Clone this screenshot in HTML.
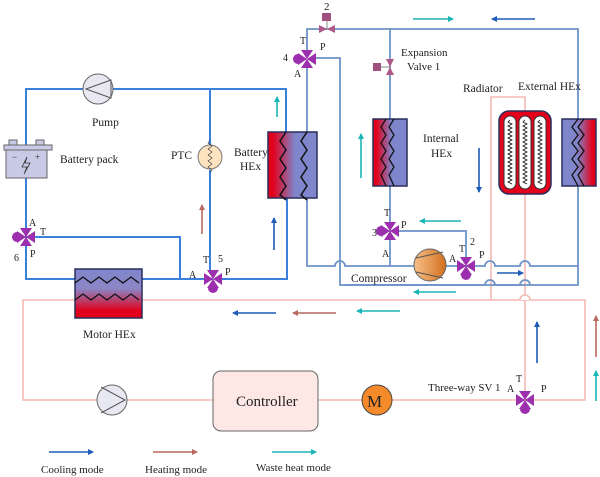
<!DOCTYPE html>
<html><head><style>
html,body{margin:0;padding:0;background:#fff;}
svg{display:block;}
text{font-family:"Liberation Serif",serif;fill:#222;}
</style></head><body>
<svg width="600" height="477" viewBox="0 0 600 477" xmlns="http://www.w3.org/2000/svg">
<defs>
<linearGradient id="rb" x1="0" x2="1"><stop offset="0.1" stop-color="#e3001b"/><stop offset="0.55" stop-color="#7f86cc"/><stop offset="1" stop-color="#7f86cc"/></linearGradient>
<linearGradient id="br" x1="0" x2="1"><stop offset="0" stop-color="#7f86cc"/><stop offset="0.45" stop-color="#7f86cc"/><stop offset="0.9" stop-color="#e3001b"/></linearGradient>
<linearGradient id="bv" x1="0" y1="0" x2="0" y2="1"><stop offset="0" stop-color="#7f86cc"/><stop offset="0.4" stop-color="#8b86c8"/><stop offset="0.85" stop-color="#e3001b"/></linearGradient>
<linearGradient id="cmp" x1="0" x2="1"><stop offset="0" stop-color="#f7c08a"/><stop offset="1" stop-color="#d2701c"/></linearGradient>
<g id="v"><path d="M-6,-9 L6,-9 L0,0Z M-6,9 L6,9 L0,0Z M-9,-6 L-9,6 L0,0Z M9,-6 L9,6 L0,0Z" fill="#9b2fae"/></g>
<marker id="m" markerWidth="6" markerHeight="6" refX="5" refY="3" orient="auto" markerUnits="userSpaceOnUse"><path d="M0,0 L6,3 L0,6Z" fill="context-stroke"/></marker>
</defs>

<!-- pink loop -->
<g stroke="#f6b8b4" stroke-width="1.6" fill="none">
<path d="M23,300 H585 V400 H23 Z"/>
<path d="M491,300 V97 H525 V400"/>
</g>

<!-- battery loop (bright blue) -->
<g stroke="#3a80dc" stroke-width="2" fill="none">
<path d="M26,145 V89 H286 V132"/>
<path d="M210,89 V145 M210,170 V270"/>
<path d="M26,178 V279 H213 M220,279 H287 V198"/>
<path d="M33,237 H180 V279"/>
</g>

<!-- refrigerant loop -->
<g stroke="#6d93c8" stroke-width="1.8" fill="none">
<path d="M307,52 V29 H578 V285 H345"/>
<path d="M307,66 V198"/>
<path d="M307,198 V266 H335 a5,5 0 0 1 10,0 H485 a5,5 0 0 1 10,0 H520 a5,5 0 0 1 10,0 H578"/>
<path d="M315,58 H340 V285 H485 a5,5 0 0 1 10,0 H520 a5,5 0 0 1 10,0"/>
<path d="M390,29 V119 M390,186 V266"/>
<path d="M398,231 H466 V262"/>
</g>
<path d="M520,300 a5,5 0 0 1 10,0" stroke="#f6b8b4" stroke-width="1.6" fill="#fff"/>

<!-- battery pack -->
<rect x="4" y="145" width="48" height="5" fill="#c9cbe6" stroke="#666"/>
<rect x="9" y="140" width="8" height="5" fill="#c9cbe6" stroke="#666"/>
<rect x="36" y="140" width="8" height="5" fill="#c9cbe6" stroke="#666"/>
<rect x="6" y="150" width="41" height="28" fill="#c9cbe6" stroke="#666"/>
<text x="12" y="160" font-size="9">−</text><text x="35" y="160" font-size="9">+</text>
<path d="M27,157 L22,167 H27 L24,174 L30,163 H25 Z" fill="none" stroke="#333" stroke-width="0.8"/>
<text x="60" y="163" font-size="11.5">Battery pack</text>

<!-- pump -->
<circle cx="98" cy="89" r="15" fill="#e8e8f2" stroke="#666"/>
<path d="M86,89 L111,80 L111,98 Z" fill="none" stroke="#555"/>
<text x="92" y="126" font-size="11.5">Pump</text>

<!-- PTC -->
<circle cx="210" cy="157" r="12" fill="#fde3c0" stroke="#777"/>
<path d="M210,140 l-2,3 l4,3 l-4,3 l4,3 l-4,3 l4,3 l-4,3 l4,3 l-4,3 l4,3 l-2,3" stroke="#333" fill="none" stroke-width="0.6"/>
<text x="171" y="159" font-size="11.5">PTC</text>

<!-- Battery HEx -->
<rect x="268" y="132" width="49" height="66" fill="url(#rb)" stroke="#2a2e5a" stroke-width="1.5"/>
<path d="M286,132 l-6,9 l6,9 l-6,9 l6,9 l-6,9 l6,9 l-6,9 l6,5" stroke="#111" fill="none" stroke-width="1.5"/>
<path d="M307,132 l-6,9 l6,9 l-6,9 l6,9 l-6,9 l6,9 l-6,9 l6,5" stroke="#111" fill="none" stroke-width="1.5"/>
<text x="234" y="156" font-size="11.5">Battery</text><text x="240" y="170" font-size="11.5">HEx</text>

<!-- Internal HEx -->
<rect x="373" y="119" width="34" height="67" fill="url(#rb)" stroke="#2a2e5a" stroke-width="1.5"/>
<path d="M386,119 l-5,8 l5,8 l-5,8 l5,8 l-5,8 l5,8 l-5,8 l5,11" stroke="#111" fill="none" stroke-width="1.3"/>
<path d="M394,119 l-5,8 l5,8 l-5,8 l5,8 l-5,8 l5,8 l-5,8 l5,11" stroke="#111" fill="none" stroke-width="1.3"/>
<text x="423" y="142" font-size="11.5">Internal</text><text x="431" y="157" font-size="11.5">HEx</text>

<!-- Radiator -->
<rect x="499" y="111" width="52" height="83" rx="10" fill="#e3001b" stroke="#2a2e5a" stroke-width="1.5"/>
<rect x="504" y="116" width="12" height="73" rx="6" fill="#fff" stroke="#333"/>
<rect x="519" y="116" width="12" height="73" rx="6" fill="#fff" stroke="#333"/>
<rect x="534" y="116" width="12" height="73" rx="6" fill="#fff" stroke="#333"/>
<g stroke="#111" fill="none" stroke-width="0.8">
<path d="M510,120 l-2,2 l4,2 l-4,2 l4,2 l-4,2 l4,2 l-4,2 l4,2 l-4,2 l4,2 l-4,2 l4,2 l-4,2 l4,2 l-4,2 l4,2 l-4,2 l4,2 l-4,2 l4,2 l-4,2 l4,2 l-4,2 l4,2 l-4,2 l4,2 l-4,2 l4,2 l-4,2 l4,2 l-4,2 l4,2"/>
<path d="M525,120 l-2,2 l4,2 l-4,2 l4,2 l-4,2 l4,2 l-4,2 l4,2 l-4,2 l4,2 l-4,2 l4,2 l-4,2 l4,2 l-4,2 l4,2 l-4,2 l4,2 l-4,2 l4,2 l-4,2 l4,2 l-4,2 l4,2 l-4,2 l4,2 l-4,2 l4,2 l-4,2 l4,2 l-4,2 l4,2"/>
<path d="M540,120 l-2,2 l4,2 l-4,2 l4,2 l-4,2 l4,2 l-4,2 l4,2 l-4,2 l4,2 l-4,2 l4,2 l-4,2 l4,2 l-4,2 l4,2 l-4,2 l4,2 l-4,2 l4,2 l-4,2 l4,2 l-4,2 l4,2 l-4,2 l4,2 l-4,2 l4,2 l-4,2 l4,2 l-4,2 l4,2"/>
</g>
<text x="463" y="92" font-size="11.5">Radiator</text>
<text x="518" y="90" font-size="11.5">External HEx</text>

<!-- External HEx -->
<rect x="562" y="119" width="34" height="67" fill="url(#br)" stroke="#2a2e5a" stroke-width="1.5"/>
<path d="M578,119 l-6,8 l6,8 l-6,8 l6,8 l-6,8 l6,8 l-6,8 l6,11" stroke="#111" fill="none" stroke-width="1.3"/>
<path d="M584,119 l-6,8 l6,8 l-6,8 l6,8 l-6,8 l6,8 l-6,8 l6,11" stroke="#111" fill="none" stroke-width="1.3"/>

<!-- Motor HEx -->
<rect x="75" y="269" width="67" height="49" fill="url(#bv)" stroke="#2a2e5a" stroke-width="1.5"/>
<path d="M75,283 l8,-6 l8,6 l8,-6 l8,6 l8,-6 l8,6 l8,-6 l8,6" stroke="#111" fill="none" stroke-width="1.3"/>
<path d="M75,300 l8,-6 l8,6 l8,-6 l8,6 l8,-6 l8,6 l8,-6 l8,6" stroke="#111" fill="none" stroke-width="1.3"/>
<text x="83" y="338" font-size="11.5">Motor HEx</text>

<!-- compressor -->
<circle cx="430" cy="265" r="16" fill="url(#cmp)" stroke="#666"/>
<path d="M416,258 L443,252 M416,272 L443,278" stroke="#555"/>
<text x="351" y="282" font-size="11.5">Compressor</text>

<!-- expansion valves -->
<path d="M319,25 L335,33 L335,25 L319,33Z" fill="#b0578a"/>
<line x1="327" y1="29" x2="327" y2="20" stroke="#888"/>
<rect x="322" y="13" width="9" height="8" fill="#a0507f"/>
<text x="324" y="10" font-size="11">2</text>
<path d="M386,59 L394,75 L386,75 L394,59Z" fill="#b0578a"/>
<line x1="390" y1="67" x2="381" y2="67" stroke="#888"/>
<rect x="373" y="63" width="8" height="8" fill="#a0507f"/>
<text x="401" y="56" font-size="11">Expansion</text><text x="407" y="70" font-size="11">Valve 1</text>

<!-- three-way valves -->
<use href="#v" x="26" y="237"/><path d="M17,232 a5,5 0 0 0 0,10Z" fill="#9b2fae"/>
<text x="29" y="226" font-size="10">A</text><text x="40" y="235" font-size="10">T</text><text x="30" y="257" font-size="10">P</text><text x="14" y="261" font-size="10">6</text>
<use href="#v" x="213" y="279"/><path d="M208,288 a5,5 0 0 0 10,0Z" fill="#9b2fae"/>
<text x="189" y="278" font-size="10">A</text><text x="225" y="275" font-size="10">P</text><text x="203" y="263" font-size="10">T</text><text x="218" y="262" font-size="10">5</text>
<use href="#v" x="307" y="59"/><path d="M298,54 a5,5 0 0 0 0,10Z" fill="#9b2fae"/>
<text x="300" y="44" font-size="10">T</text><text x="320" y="50" font-size="10">P</text><text x="294" y="77" font-size="10">A</text><text x="283" y="61" font-size="10">4</text>
<use href="#v" x="390" y="231"/><path d="M381,226 a5,5 0 0 0 0,10Z" fill="#9b2fae"/>
<text x="384" y="216" font-size="10">T</text><text x="401" y="228" font-size="10">P</text><text x="382" y="257" font-size="10">A</text><text x="372" y="236" font-size="10">3</text>
<use href="#v" x="466" y="266"/><path d="M461,275 a5,5 0 0 0 10,0Z" fill="#9b2fae"/>
<text x="449" y="262" font-size="10">A</text><text x="459" y="252" font-size="10">T</text><text x="479" y="258" font-size="10">P</text><text x="470" y="245" font-size="10">2</text>
<use href="#v" x="525" y="400"/><path d="M520,409 a5,5 0 0 0 10,0Z" fill="#9b2fae"/>
<text x="516" y="382" font-size="10">T</text><text x="507" y="392" font-size="10">A</text><text x="541" y="392" font-size="10">P</text>
<text x="428" y="391" font-size="11">Three-way SV 1</text>

<!-- lower pump, controller, motor -->
<circle cx="112" cy="400" r="15" fill="#e8e8f2" stroke="#666"/>
<path d="M101,387 L125,400 L101,413" fill="none" stroke="#555"/>
<rect x="213" y="371" width="105" height="60" rx="8" fill="#fde8e6" stroke="#666"/>
<text x="236" y="406" font-size="15">Controller</text>
<circle cx="377" cy="400" r="15" fill="#f48a2a" stroke="#444"/>
<text x="367" y="407" font-size="17">M</text>

<!-- flow arrows -->
<g fill="none" stroke-width="1.6" marker-end="url(#m)">
<path d="M413,19 H453" stroke="#1ab5b5"/>
<path d="M535,19 H492" stroke="#1c5cb8"/>
<path d="M277,117 V97" stroke="#1ab5b5"/>
<path d="M202,234 V205" stroke="#b8685e"/>
<path d="M274,250 V218" stroke="#1c5cb8"/>
<path d="M361,178 V134" stroke="#1ab5b5"/>
<path d="M479,148 V192" stroke="#1c5cb8"/>
<path d="M461,221 H420" stroke="#1ab5b5"/>
<path d="M497,273 H523" stroke="#1c5cb8"/>
<path d="M456,292 H414" stroke="#1ab5b5"/>
<path d="M276,313 H233" stroke="#1c5cb8"/>
<path d="M336,313 H293" stroke="#b8685e"/>
<path d="M400,311 H357" stroke="#1ab5b5"/>
<path d="M537,363 V322" stroke="#1c5cb8"/>
<path d="M596,357 V316" stroke="#b8685e"/>
<path d="M596,401 V371" stroke="#1ab5b5"/>
<path d="M49,452 H93" stroke="#1c5cb8"/>
<path d="M153,452 H197" stroke="#b8685e"/>
<path d="M272,452 H316" stroke="#1ab5b5"/>
</g>
<text x="41" y="473" font-size="11">Cooling mode</text>
<text x="145" y="473" font-size="11">Heating mode</text>
<text x="256" y="471" font-size="11">Waste heat mode</text>
</svg>
</body></html>
